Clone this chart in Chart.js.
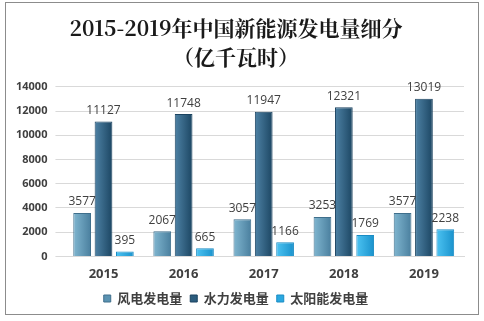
<!DOCTYPE html>
<html>
<head>
<meta charset="utf-8">
<script src="https://cdn.jsdelivr.net/npm/chart.js@4"></script>
<style>
  html, body { margin: 0; padding: 0; background: #fff; }
  #box { position: absolute; left: 5px; top: 2px; width: 474px; height: 313px; border: 1px solid #8c8c8c; box-sizing: border-box; }
  #wrap { position: absolute; left: 0; top: 0; width: 484px; height: 321px; }
</style>
</head>
<body>
<div id="box"></div>
<div id="wrap"><canvas id="c" width="484" height="321"></canvas></div>
<script>
const years = ['2015', '2016', '2017', '2018', '2019'];
const wind = [3577, 2067, 3057, 3253, 3577];
const hydro = [11127, 11748, 11947, 12321, 13019];
const solar = [395, 665, 1166, 1769, 2238];
const seriesNames = ['风电发电量', '水力发电量', '太阳能发电量'];
const yTicks = [0, 2000, 4000, 6000, 8000, 10000, 12000, 14000];
const gradients = [['#80b6d0', '#4a7f9e'], ['#4e82a5', '#1c4663'], ['#4cc3f2', '#1a92cc']];

// horizontal gradient on each bar, set just before drawing
const gradientPlugin = {
    id: 'barGradients',
    beforeDatasetsDraw(chart) {
        const ctx = chart.ctx;
        chart.data.datasets.forEach((ds, i) => {
            chart.getDatasetMeta(i).data.forEach(bar => {
                const g = ctx.createLinearGradient(bar.x - bar.width / 2, 0, bar.x + bar.width / 2, 0);
                g.addColorStop(0, gradients[i][0]);
                g.addColorStop(1, gradients[i][1]);
                bar.options = Object.assign({}, bar.options, { backgroundColor: g });
            });
        });
    }
};

const labelPlugin = {
    id: 'valueLabels',
    afterDatasetsDraw(chart) {
        const ctx = chart.ctx;
        ctx.save();
        ctx.font = '12px "Open Sans", "DejaVu Sans", sans-serif';
        ctx.fillStyle = '#404040';
        ctx.textAlign = 'center';
        ctx.textBaseline = 'bottom';
        chart.data.datasets.forEach((ds, i) => {
            chart.getDatasetMeta(i).data.forEach((bar, j) => {
                ctx.fillText(ds.data[j], bar.x, bar.y - 5);
            });
        });
        ctx.restore();
    }
};

new Chart(document.getElementById('c'), {
    type: 'bar',
    data: {
        labels: years,
        datasets: [
            { label: seriesNames[0], data: wind, backgroundColor: '#5b93b2', borderColor: '#3f6f8c', borderWidth: 1 },
            { label: seriesNames[1], data: hydro, backgroundColor: '#2c5d7e', borderColor: '#1b4360', borderWidth: 1 },
            { label: seriesNames[2], data: solar, backgroundColor: '#2aa8e0', borderColor: '#1a8cc4', borderWidth: 1 }
        ]
    },
    options: {
        responsive: false,
        animation: false,
        layout: { padding: { left: 8, right: 20, top: 0, bottom: 6 } },
        datasets: { bar: { categoryPercentage: 0.8, barPercentage: 0.83 } },
        plugins: {
            title: {
                display: true,
                text: ['2015-2019年中国新能源发电量细分', '（亿千瓦时）'],
                font: { family: '"Noto Serif CJK SC", "Noto Sans CJK SC", serif', size: 21, weight: 'bold', lineHeight: 1.4 },
                color: '#1a1a1a',
                padding: { top: 13, bottom: 15 }
            },
            legend: {
                position: 'bottom',
                labels: {
                    boxWidth: 7, boxHeight: 7,
                    font: { family: '"Noto Sans CJK SC", sans-serif', size: 13, weight: 'bold' },
                    color: '#404040',
                    padding: 8
                }
            },
            tooltip: { enabled: false }
        },
        scales: {
            x: {
                grid: { display: false },
                border: { color: '#d9d9d9' },
                ticks: { color: '#404040', padding: 2, font: { family: '"Open Sans", sans-serif', size: 13, weight: 'bold' } }
            },
            y: {
                min: 0, max: 14000,
                afterBuildTicks(axis) { axis.ticks = yTicks.map(v => ({ value: v })); },
                grid: { color: '#d9d9d9' },
                border: { display: false },
                ticks: {
                    color: '#404040', padding: 8,
                    font: { family: '"Open Sans", sans-serif', size: 11, weight: 'bold' },
                    callback: v => String(v)
                }
            }
        }
    },
    plugins: [gradientPlugin, labelPlugin]
});
</script>
</body>
</html>
